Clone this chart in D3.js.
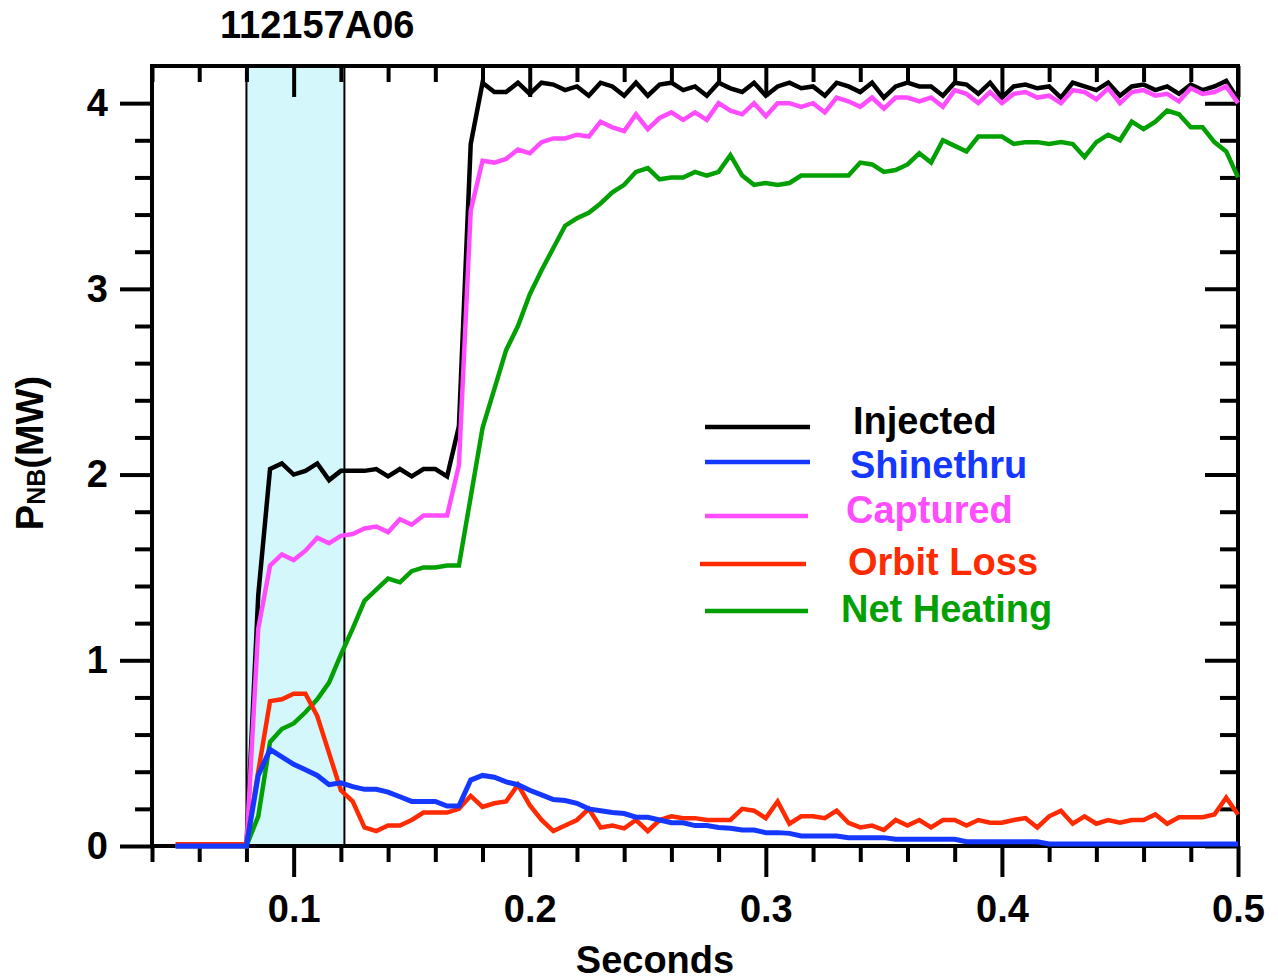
<!DOCTYPE html>
<html><head><meta charset="utf-8">
<script src="https://cdn.jsdelivr.net/npm/d3@7"></script>
<style>
body{margin:0;background:#fff}
svg{display:block}
text{font-family:"Liberation Sans",Arial,Helvetica,sans-serif;font-weight:bold}
</style>
</head><body>
<svg id="c" width="1278" height="980"></svg>
<script>
// ---------------- DATA ----------------
const title = "112157A06";
const xLabel = "Seconds";

const times = [
0.05,0.055,0.06,0.065,0.07,0.075,0.08,0.085,0.09,0.095,
0.1,0.105,0.11,0.115,0.12,0.125,0.13,0.135,0.14,0.145,
0.15,0.155,0.16,0.165,0.17,0.175,0.18,0.185,0.19,0.195,
0.2,0.205,0.21,0.215,0.22,0.225,0.23,0.235,0.24,0.245,
0.25,0.255,0.26,0.265,0.27,0.275,0.28,0.285,0.29,0.295,
0.3,0.305,0.31,0.315,0.32,0.325,0.33,0.335,0.34,0.345,
0.35,0.355,0.36,0.365,0.37,0.375,0.38,0.385,0.39,0.395,
0.4,0.405,0.41,0.415,0.42,0.425,0.43,0.435,0.44,0.445,
0.45,0.455,0.46,0.465,0.47,0.475,0.48,0.485,0.49,0.495,
0.5];

const injected = [
0,0,0,0,0,0,0,1.35,2.03,2.06,
2.00,2.02,2.06,1.97,2.02,2.02,2.02,2.03,1.99,2.03,
1.99,2.03,2.03,1.99,2.26,3.78,4.11,4.06,4.06,4.11,
4.05,4.11,4.10,4.07,4.09,4.04,4.11,4.09,4.04,4.11,
4.04,4.10,4.11,4.07,4.09,4.04,4.11,4.08,4.06,4.11,
4.04,4.09,4.11,4.08,4.09,4.04,4.11,4.09,4.06,4.11,
4.03,4.09,4.11,4.09,4.09,4.04,4.11,4.10,4.05,4.11,
4.03,4.09,4.10,4.08,4.09,4.03,4.11,4.09,4.07,4.11,
4.04,4.09,4.10,4.07,4.09,4.05,4.10,4.07,4.09,4.12,
4.02];

const shinethru = [
0,0,0,0,0,0,0,0.38,0.52,0.48,
0.44,0.41,0.38,0.33,0.34,0.32,0.305,0.305,0.29,0.265,
0.24,0.24,0.24,0.215,0.215,0.355,0.38,0.37,0.345,0.33,
0.30,0.275,0.25,0.245,0.23,0.20,0.19,0.18,0.175,0.155,
0.155,0.14,0.125,0.125,0.11,0.11,0.10,0.095,0.086,0.086,
0.072,0.072,0.068,0.054,0.054,0.054,0.054,0.045,0.045,0.045,
0.045,0.036,0.036,0.036,0.036,0.036,0.036,0.023,0.023,0.023,
0.023,0.023,0.023,0.023,0.011,0.011,0.011,0.011,0.011,0.011,
0.011,0.011,0.011,0.011,0.011,0.011,0.011,0.011,0.011,0.011,
0.011];

const captured = [
0,0,0,0,0,0,0,1.17,1.51,1.57,
1.54,1.59,1.66,1.63,1.67,1.68,1.71,1.72,1.69,1.76,
1.73,1.78,1.78,1.78,2.05,3.42,3.69,3.68,3.70,3.75,
3.73,3.79,3.81,3.81,3.83,3.82,3.90,3.87,3.85,3.94,
3.86,3.92,3.95,3.91,3.95,3.91,4.00,3.96,3.94,4.00,
3.93,4.00,4.00,3.98,4.00,3.95,4.03,4.01,3.98,4.03,
3.97,4.03,4.03,4.01,4.03,3.98,4.07,4.05,4.00,4.06,
4.00,4.05,4.06,4.03,4.04,4.00,4.07,4.06,4.02,4.08,
4.00,4.06,4.07,4.04,4.05,4.01,4.08,4.05,4.06,4.09,
4.00];

const orbitLoss = [
0.01,0.01,0.01,0.01,0.01,0.01,0.01,0.40,0.78,0.79,
0.82,0.82,0.70,0.50,0.30,0.24,0.10,0.08,0.11,0.11,
0.14,0.18,0.18,0.18,0.20,0.27,0.21,0.23,0.24,0.33,
0.22,0.14,0.08,0.11,0.14,0.20,0.10,0.11,0.095,0.14,
0.08,0.14,0.16,0.15,0.15,0.14,0.14,0.14,0.20,0.19,
0.15,0.24,0.12,0.16,0.16,0.15,0.19,0.125,0.10,0.11,
0.086,0.14,0.11,0.14,0.10,0.14,0.14,0.11,0.14,0.125,
0.125,0.14,0.15,0.10,0.16,0.19,0.12,0.16,0.12,0.14,
0.125,0.14,0.14,0.17,0.12,0.155,0.155,0.155,0.17,0.26,
0.17];

const netHeating = [
0,0,0,0,0,0,0,0.16,0.56,0.63,
0.66,0.72,0.79,0.88,1.03,1.17,1.32,1.38,1.44,1.42,
1.48,1.50,1.50,1.51,1.51,1.88,2.25,2.46,2.67,2.80,
2.97,3.10,3.22,3.34,3.38,3.41,3.46,3.52,3.56,3.63,
3.65,3.59,3.60,3.60,3.63,3.61,3.63,3.72,3.61,3.56,
3.57,3.56,3.57,3.61,3.61,3.61,3.61,3.61,3.68,3.67,
3.63,3.64,3.67,3.73,3.68,3.80,3.77,3.74,3.82,3.82,
3.82,3.78,3.79,3.79,3.78,3.79,3.78,3.71,3.79,3.83,
3.80,3.90,3.86,3.90,3.96,3.94,3.87,3.87,3.79,3.74,
3.60];

const seriesNames = ["Injected","Shinethru","Captured","Orbit Loss","Net Heating"];
const band = [0.08, 0.1215];

const xMajorTicks = [0.1,0.2,0.3,0.4,0.5];
const xMinorTicks = [0.04,0.06,0.08,0.12,0.14,0.16,0.18,0.22,0.24,0.26,0.28,0.32,0.34,0.36,0.38,0.42,0.44,0.46,0.48];
const yMajorTicks = [0,1,2,3,4];
const yMinorTicks = [0.2,0.4,0.6,0.8,1.2,1.4,1.6,1.8,2.2,2.4,2.6,2.8,3.2,3.4,3.6,3.8];

// ---------------- STYLE / LAYOUT ----------------
const colors = {"Injected":"#000000","Shinethru":"#1438ff","Captured":"#ff4cff","Orbit Loss":"#ff2a00","Net Heating":"#03a003"};
const values = {"Injected":injected,"Shinethru":shinethru,"Captured":captured,"Orbit Loss":orbitLoss,"Net Heating":netHeating};
const drawOrder = ["Injected","Captured","Net Heating","Orbit Loss","Shinethru"];
const FS = 38;

const svg = d3.select("#c");
const x = d3.scaleLinear().domain([0.04,0.5]).range([152,1238]);
const y = d3.scaleLinear().domain([0,4.2]).range([846,66]);

// shaded band
svg.append("rect")
  .attr("x", x(band[0])).attr("y", y(4.2))
  .attr("width", x(band[1]) - x(band[0])).attr("height", y(0) - y(4.2))
  .attr("fill", "#d4f7fc");
band.forEach(b => svg.append("line")
  .attr("x1", x(b)).attr("x2", x(b)).attr("y1", y(0)).attr("y2", y(4.2))
  .attr("stroke", "#000").attr("stroke-width", 2));

// axes
function drawAxis(gen, tr, vals, size, fmt, pad) {
  const g = svg.append("g").attr("transform", tr)
    .call(gen.tickValues(vals).tickSize(size).tickSizeOuter(0).tickPadding(pad || 3).tickFormat(fmt || (() => "")));
  g.select(".domain").remove();
  g.selectAll(".tick line").attr("stroke", "#000").attr("stroke-width", 4);
  g.attr("font-family", null).attr("font-size", FS);
  g.selectAll(".tick text").attr("fill", "#000").style("font-size", FS + "px");
  return g;
}
drawAxis(d3.axisBottom(x), "translate(0,846)", xMinorTicks, 16);
drawAxis(d3.axisBottom(x), "translate(0,846)", xMajorTicks, 31, d3.format(".1f"), 18);
drawAxis(d3.axisTop(x), "translate(0,66)", xMinorTicks, -16);
drawAxis(d3.axisTop(x), "translate(0,66)", xMajorTicks, -31);
drawAxis(d3.axisLeft(y), "translate(152,0)", yMinorTicks, 17);
drawAxis(d3.axisLeft(y), "translate(152,0)", yMajorTicks, 32, d3.format("d"), 12);
drawAxis(d3.axisRight(y), "translate(1238,0)", yMinorTicks, -18);
drawAxis(d3.axisRight(y), "translate(1238,0)", yMajorTicks, -33);

// frame
svg.append("rect").attr("x", 152).attr("y", 66).attr("width", 1086).attr("height", 780)
  .attr("fill", "none").attr("stroke", "#000").attr("stroke-width", 4);

// series lines
const line = d3.line().x((d, i) => x(times[i])).y(d => y(d));
drawOrder.forEach(n => {
  svg.append("path").datum(values[n]).attr("d", line)
    .attr("fill", "none").attr("stroke", colors[n])
    .attr("stroke-width", n === "Shinethru" ? 5 : 4.5)
    .attr("stroke-linejoin", "miter").attr("stroke-miterlimit", 3);
});

// legend
const legLineY = [427, 462, 516, 564, 611];
const legLineX = [[705, 810], [705, 810], [705, 808], [700, 806], [705, 808]];
const legTextX = [853, 850, 846, 848, 841];
const legTextY = [434, 478, 523, 575, 622];
seriesNames.forEach((n, i) => {
  svg.append("line").attr("x1", legLineX[i][0]).attr("x2", legLineX[i][1])
    .attr("y1", legLineY[i]).attr("y2", legLineY[i])
    .attr("stroke", colors[n]).attr("stroke-width", 4.5);
  svg.append("text").attr("x", legTextX[i]).attr("y", legTextY[i])
    .attr("fill", colors[n]).attr("font-size", FS).text(n);
});

// title and axis labels
svg.append("text").attr("x", 220).attr("y", 38).attr("font-size", FS).text(title);
svg.append("text").attr("x", 655).attr("y", 973).attr("text-anchor", "middle").attr("font-size", FS).text(xLabel);
const yl = svg.append("text").attr("transform", "translate(43,453) rotate(-90)")
  .attr("text-anchor", "middle").attr("font-size", FS);
yl.append("tspan").text("P");
yl.append("tspan").attr("font-size", 25).attr("dy", 2).text("NB");
yl.append("tspan").attr("dy", -2).text("(MW)");
</script>
</body></html>
